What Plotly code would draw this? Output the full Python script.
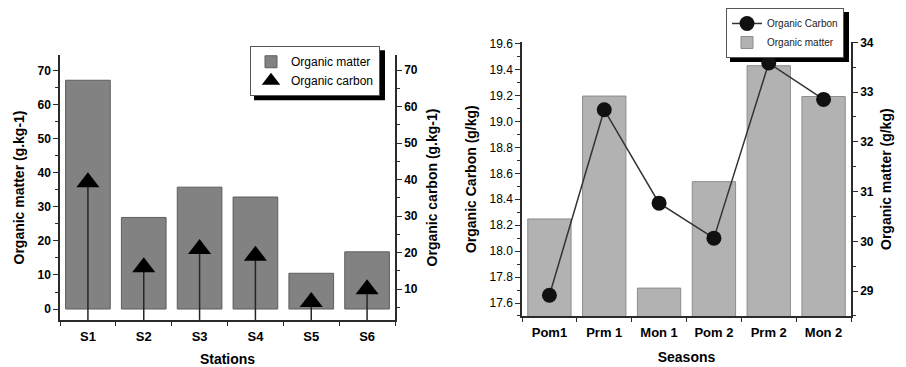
import plotly.graph_objects as go

# ---- Stations panel ----
stations = ["S1", "S2", "S3", "S4", "S5", "S6"]
om_station = [67.2, 26.9, 35.8, 32.9, 10.5, 16.8]      # Organic matter (g.kg-1)
oc_station = [39.3, 16.0, 21.0, 19.2, 6.5, 10.0]       # Organic carbon (g.kg-1)
oc_station_floor = 1.6                                  # bottom of the carbon axis

# ---- Seasons panel ----
seasons = ["Pom1", "Prm 1", "Mon 1", "Pom 2", "Prm 2", "Mon 2"]
oc_season = [17.66, 19.09, 18.37, 18.10, 19.45, 19.17]  # Organic Carbon (g/kg)
om_season = [30.45, 32.92, 29.06, 31.20, 33.53, 32.91]  # Organic matter (g/kg)

W, H = 906, 367
FONT = "Arial, Liberation Sans, sans-serif"
AX = "#2b2b2b"

fig = go.Figure()

# Stations: bars for organic matter (left axis)
fig.add_trace(go.Bar(
    x=stations, y=om_station, name="Organic matter",
    marker=dict(color="#828282", line=dict(color="#5e5e5e", width=1)),
    width=0.8, xaxis="x", yaxis="y", legend="legend",
))
# Stations: drop lines from each carbon marker to the axis floor
stem_x, stem_y = [], []
for s, v in zip(stations, oc_station):
    stem_x += [s, s, None]
    stem_y += [oc_station_floor, v, None]
fig.add_trace(go.Scatter(
    x=stem_x, y=stem_y, mode="lines", showlegend=False,
    line=dict(color="#262626", width=1.5), xaxis="x", yaxis="y2",
    hoverinfo="skip",
))
# Stations: triangles for organic carbon (right axis)
fig.add_trace(go.Scatter(
    x=stations, y=oc_station, name="Organic carbon", mode="markers",
    marker=dict(symbol="triangle-up", size=20, color="black"),
    xaxis="x", yaxis="y2", legend="legend",
))

# Seasons: line + dots for organic carbon (left axis, overlaid on top)
fig.add_trace(go.Scatter(
    x=seasons, y=oc_season, name="Organic Carbon", mode="lines+markers",
    line=dict(color="#333333", width=1.5),
    marker=dict(symbol="circle", size=15, color="#111111"),
    xaxis="x2", yaxis="y4", legend="legend2",
))
# Seasons: bars for organic matter (right axis, underneath)
fig.add_trace(go.Bar(
    x=seasons, y=om_season, name="Organic matter",
    marker=dict(color="#b2b2b2", line=dict(color="#8c8c8c", width=1)),
    width=0.79, xaxis="x2", yaxis="y3", legend="legend2",
))


def px_x(p):
    return p / W


def px_y(p):
    return 1 - p / H


tick_font = dict(family=FONT, size=12, color="black", weight="bold")
title_font = dict(family=FONT, size=14, color="black", weight="bold")

common_y = dict(
    showline=True, linecolor=AX, linewidth=1.5, ticks="outside", ticklen=5,
    tickwidth=1.2, tickcolor=AX, showgrid=False, zeroline=False,
)
common_x = dict(
    showline=True, linecolor=AX, linewidth=1.5, ticks="outside", ticklen=4,
    tickwidth=1.2, tickcolor=AX, showgrid=False, tickson="boundaries",
    ticklabelstandoff=4,
    tickfont=dict(family=FONT, size=13, color="black", weight="bold"),
    title_font=title_font,
)

fig.update_layout(
    width=W, height=H, autosize=False,
    margin=dict(l=0, r=0, t=0, b=0),
    paper_bgcolor="white", plot_bgcolor="white",
    barmode="overlay",
    font=dict(family=FONT, color="black"),
    xaxis=dict(
        domain=[px_x(60), px_x(395)], anchor="y", range=[-0.5, 5.5],
        title=dict(text="Stations", standoff=13), **common_x,
    ),
    yaxis=dict(
        domain=[px_y(319), px_y(49)], range=[-3.2, 74.6], dtick=10,
        minor=dict(ticks="outside", ticklen=3, dtick=5, tickcolor=AX),
        tickfont=tick_font,
        title=dict(text="Organic matter (g.kg-1)", font=title_font, standoff=10),
        **common_y,
    ),
    yaxis2=dict(
        overlaying="y", side="right", anchor="x", range=[1.6, 74.1], dtick=10,
        minor=dict(ticks="outside", ticklen=3, dtick=5, tickcolor=AX),
        tickfont=tick_font,
        title=dict(text="Organic carbon (g.kg-1)", font=title_font, standoff=10),
        **common_y,
    ),
    xaxis2=dict(
        domain=[px_x(522), px_x(851)], anchor="y3", range=[-0.5, 5.5],
        title=dict(text="Seasons", standoff=13), **common_x,
    ),
    yaxis3=dict(
        domain=[px_y(315), px_y(36)], anchor="x2", side="right",
        range=[28.5, 34.0], dtick=1,
        minor=dict(ticks="outside", ticklen=3, dtick=0.5, tickcolor=AX),
        tickfont=tick_font,
        title=dict(text="Organic matter (g/kg)", font=title_font, standoff=8),
        **common_y,
    ),
    yaxis4=dict(
        overlaying="y3", side="left", anchor="x2", range=[17.5, 19.61], dtick=0.2,
        tickformat=".1f",
        minor=dict(ticks="outside", ticklen=3, dtick=0.1, tickcolor=AX),
        tickfont=dict(family=FONT, size=12, color="black"),
        title=dict(text="Organic Carbon (g/kg)", font=title_font, standoff=10),
        **common_y,
    ),
    legend=dict(
        x=px_x(250), y=px_y(40), xanchor="left", yanchor="top",
        bgcolor="white", bordercolor="#555555", borderwidth=1,
        font=dict(family=FONT, size=12, color="black"),
        tracegroupgap=0, itemwidth=30,
    ),
    legend2=dict(
        x=px_x(726), y=px_y(1), xanchor="left", yanchor="top",
        bgcolor="white", bordercolor="#555555", borderwidth=1,
        font=dict(family=FONT, size=10, color="#222222"),
        tracegroupgap=0, itemwidth=30,
    ),
)

# drop shadows behind the two legend boxes
fig.add_shape(type="rect", xref="paper", yref="paper", layer="below",
              x0=px_x(254), x1=px_x(385), y0=px_y(95), y1=px_y(44),
              fillcolor="black", line=dict(width=0))
fig.add_shape(type="rect", xref="paper", yref="paper", layer="below",
              x0=px_x(730), x1=px_x(849), y0=px_y(56), y1=px_y(5),
              fillcolor="black", line=dict(width=0))

fig.write_html("out.html")
